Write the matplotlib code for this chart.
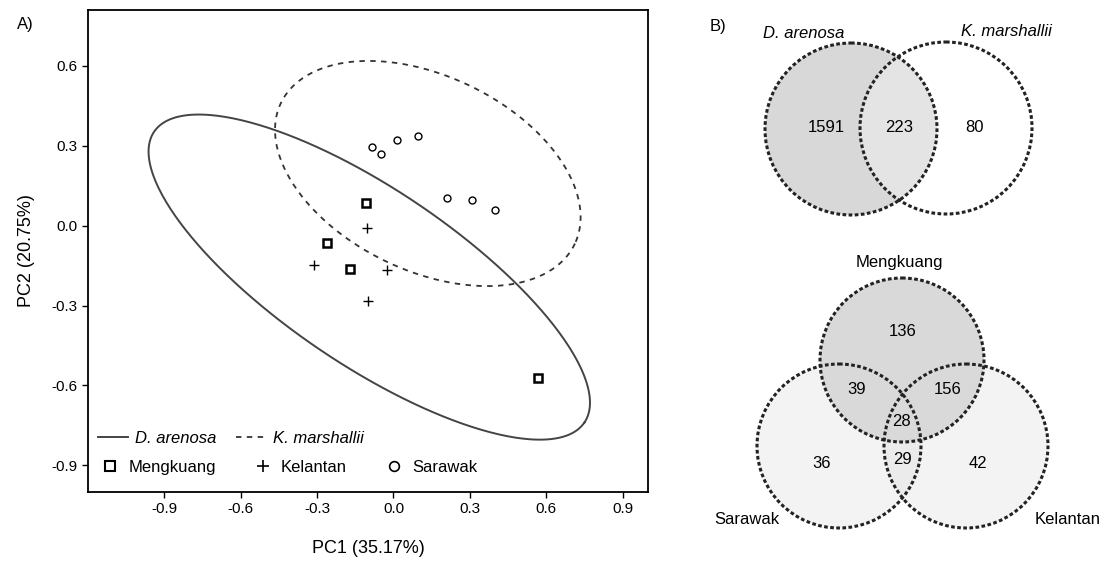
import numpy as np
import matplotlib
matplotlib.use("Agg")
import matplotlib.pyplot as plt
from matplotlib.patches import Circle
from matplotlib.lines import Line2D

plt.rcParams['font.family'] = ['Liberation Sans', 'DejaVu Sans']

# ---------------- Data: PCA panel ----------------
mengkuang_pc1 = [-0.107, -0.262, -0.172, 0.566]
mengkuang_pc2 = [0.084, -0.065, -0.162, -0.571]
kelantan_pc1 = [-0.102, -0.311, -0.026, -0.099]
kelantan_pc2 = [-0.008, -0.149, -0.168, -0.284]
sarawak_pc1 = [-0.086, -0.047, 0.015, 0.097, 0.210, 0.308, 0.398]
sarawak_pc2 = [0.297, 0.270, 0.323, 0.335, 0.103, 0.096, 0.058]

species_names = ["D. arenosa", "K. marshallii"]
ellipse_centres = [(-0.095, -0.193), (0.135, 0.196)]
ellipse_major = [(0.846, -0.545), (0.578, -0.263)]
ellipse_minor = [(-0.190, -0.275), (-0.162, -0.331)]

x_ticks = [-0.9, -0.6, -0.3, 0.0, 0.3, 0.6, 0.9]
y_ticks = [0.6, 0.3, 0.0, -0.3, -0.6, -0.9]
x_label = "PC1 (35.17%)"
y_label = "PC2 (20.75%)"

# ---------------- Data: Venn panels ----------------
venn2_labels = species_names
venn2_counts = [1591, 223, 80]          # left only, shared, right only
venn3_labels = ["Mengkuang", "Sarawak", "Kelantan"]   # top, left, right
venn3_counts = {"top": 136, "top_left": 39, "top_right": 156, "all": 28,
                "left_right": 29, "left": 36, "right": 42}

# ---------------- Figure ----------------
fig = plt.figure(figsize=(11.16, 5.65), dpi=100)

ax = fig.add_axes([88/1116, 1-492/565, (648-88)/1116, (492-10)/565])
ax.set_xlim(-1.2, 1.0)
ax.set_ylim(-1.0, 0.81)

t = np.linspace(0, 2*np.pi, 400)
styles = [dict(color='#444444', lw=1.4, ls='-'),
          dict(color='#333333', lw=1.3, ls=(0, (3, 3)))]
for c, a, b, st in zip(ellipse_centres, ellipse_major, ellipse_minor, styles):
    ex = c[0] + a[0]*np.cos(t) + b[0]*np.sin(t)
    ey = c[1] + a[1]*np.cos(t) + b[1]*np.sin(t)
    ax.plot(ex, ey, **st)

ax.plot(mengkuang_pc1, mengkuang_pc2, ls='none', marker='s', ms=6,
        mfc='none', mec='black', mew=1.8)
ax.plot(kelantan_pc1, kelantan_pc2, ls='none', marker='+', ms=7,
        mec='black', mew=1.0)
ax.plot(sarawak_pc1, sarawak_pc2, ls='none', marker='o', ms=5,
        mfc='none', mec='black', mew=1.0)

ax.set_xticks(x_ticks)
ax.set_xticklabels([f"{v:.1f}" for v in x_ticks])
ax.set_yticks(y_ticks)
ax.set_yticklabels([f"{v:.1f}" for v in y_ticks])
ax.tick_params(direction='out', length=4, width=1, labelsize=11)
for sp in ax.spines.values():
    sp.set_linewidth(1.3)
ax.set_xlabel(x_label, fontsize=13, labelpad=17)
ax.set_ylabel(y_label, fontsize=13, labelpad=12)

line_handles = [Line2D([], [], **styles[0]), Line2D([], [], **styles[1])]
leg1 = ax.legend(line_handles, species_names, ncol=2, frameon=False,
                 loc='lower left', bbox_to_anchor=(0.0, 0.075),
                 prop=dict(style='italic', size=12), handlelength=1.8,
                 handletextpad=0.4, columnspacing=1.2, borderaxespad=0.2)
ax.add_artist(leg1)
mark_handles = [Line2D([], [], ls='none', marker='s', ms=7, mfc='none', mec='black', mew=1.5),
                Line2D([], [], ls='none', marker='+', ms=9, mec='black', mew=1.2),
                Line2D([], [], ls='none', marker='o', ms=7, mfc='none', mec='black', mew=1.2)]
ax.legend(mark_handles, ["Mengkuang", "Kelantan", "Sarawak"], ncol=3, frameon=False,
          loc='lower left', bbox_to_anchor=(0.004, 0.015), prop=dict(size=12),
          handlelength=1.2, handletextpad=0.5, columnspacing=2.2, borderaxespad=0.2)

fig.text(25/1116, 1-25/565, "A)", fontsize=12, ha='center', va='center')
fig.text(718/1116, 1-27/565, "B)", fontsize=12, ha='center', va='center')

# ---------------- Venn panels ----------------
vx = fig.add_axes([690/1116, 0, 426/1116, 1])
vx.set_xlim(690, 1116)
vx.set_ylim(565, 0)
vx.axis('off')

edge = dict(edgecolor='#222222', lw=2.2, ls=(0, (1.2, 0.8)))

# two-set Venn
L2, R2, r2 = (851, 129), (946, 128), 86
cl = Circle(L2, r2, facecolor='#d8d8d8', edgecolor='none', zorder=1)
vx.add_patch(cl)
cr_clip = Circle(R2, r2, facecolor='#e4e4e4', edgecolor='none', zorder=2)
vx.add_patch(cr_clip)
cr_clip.set_clip_path(cl)
vx.add_patch(Circle(L2, r2, fill=False, zorder=3, **edge))
vx.add_patch(Circle(R2, r2, fill=False, zorder=3, **edge))
vx.text(804, 33, venn2_labels[0], fontsize=12, style='italic', ha='center', va='center')
vx.text(1006, 31, venn2_labels[1], fontsize=12, style='italic', ha='center', va='center')
vx.text(826, 127, str(venn2_counts[0]), fontsize=12, ha='center', va='center')
vx.text(899, 127, str(venn2_counts[1]), fontsize=12, ha='center', va='center')
vx.text(975, 127, str(venn2_counts[2]), fontsize=12, ha='center', va='center')

# three-set Venn
T3, Lf3, Rt3, r3 = (902, 360), (839, 446), (966, 446), 82
cL = Circle(Lf3, r3, facecolor='#f3f3f3', edgecolor='none', zorder=1)
cR = Circle(Rt3, r3, facecolor='#f3f3f3', edgecolor='none', zorder=1)
vx.add_patch(cL)
vx.add_patch(cR)
lens = Circle(Lf3, r3, facecolor='#ebebeb', edgecolor='none', zorder=2)
vx.add_patch(lens)
lens.set_clip_path(cR)
cT = Circle(T3, r3, facecolor='#d9d9d9', edgecolor='none', zorder=3)
vx.add_patch(cT)
for c in (T3, Lf3, Rt3):
    vx.add_patch(Circle(c, r3, fill=False, zorder=4, **edge))
vx.text(899, 263, venn3_labels[0], fontsize=12, ha='center', va='center')
vx.text(747, 520, venn3_labels[1], fontsize=12, ha='center', va='center')
vx.text(1068, 520, venn3_labels[2], fontsize=12, ha='center', va='center')
pos3 = {"top": (903, 332), "top_left": (857, 390), "top_right": (948, 389),
        "all": (901, 422), "left_right": (902, 460), "left": (822, 463),
        "right": (978, 463)}
for k, p in pos3.items():
    vx.text(p[0], p[1], str(venn3_counts[k]), fontsize=12, ha='center',
            va='center', zorder=5)

fig.savefig("out.png", dpi=100)
